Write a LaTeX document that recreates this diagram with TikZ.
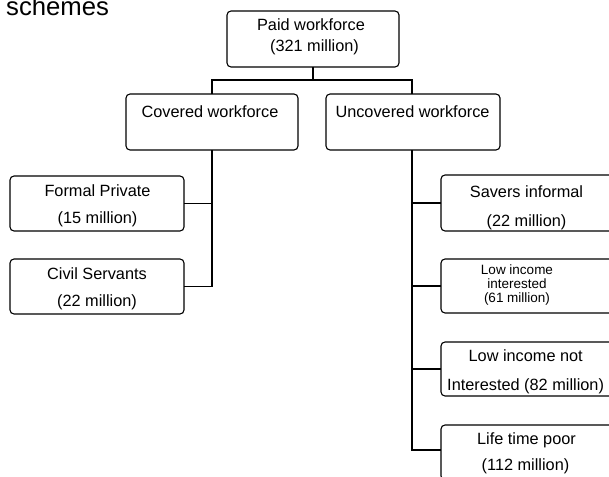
\documentclass[tikz,border=0pt]{standalone}
\usepackage{fontspec}
\setmainfont{Liberation Sans}
\usetikzlibrary{calc}
\begin{document}
\begin{tikzpicture}[x=1pt,y=-1pt,
  box/.style={draw=black,line width=1.1pt,rounded corners=4pt,fill=white,
    inner sep=0pt,outer sep=0pt},
  txt/.style={anchor=base,inner sep=0pt,font=\fontsize{16.3}{19}\selectfont},
  smalltxt/.style={anchor=base,inner sep=0pt,font=\fontsize{13.5}{15}\selectfont},
  conn/.style={draw=black,line width=1.1pt}]
% page frame
\fill[white] (0,0) rectangle (609,476);
\useasboundingbox (0,0) rectangle (609,476);

% heading line, partly above the page
\node[anchor=base west,inner sep=0pt,font=\fontsize{25.7}{30}\selectfont] (head) at (6,16) {schemes};

% boxes
\node[box,minimum width=172pt,minimum height=56pt] (paid) at (313,39) {};
\node[box,minimum width=172pt,minimum height=56pt] (covered) at (212,122) {};
\node[box,minimum width=174pt,minimum height=56pt] (uncovered) at (413,122) {};
\node[box,minimum width=174pt,minimum height=55pt] (formal) at (97,203.5) {};
\node[box,minimum width=174pt,minimum height=55pt] (civil) at (97,286.5) {};
\node[box,minimum width=172pt,minimum height=56pt] (savers) at (527,203) {};
\node[box,minimum width=172pt,minimum height=54pt] (lowint) at (527,286) {};
\node[box,minimum width=172pt,minimum height=54pt] (lownot) at (527,369) {};
\node[box,minimum width=172pt,minimum height=55pt] (poor) at (527,452.5) {};

% connectors
\coordinate (split) at ($(paid.south)+(0,13)$);
\draw[conn] (paid.south) -- (split);
\draw[conn] (covered.north) |- (split) -| (412,94);
\draw[conn] (covered.south) |- (civil.east);
\draw[conn] (formal.east) -- (formal.east -| covered.south);
\coordinate (utop) at (412,150);
\coordinate (ubot) at (412,450);
\draw[conn] (utop) -- (ubot) -- (ubot -| poor.west);
\draw[conn] (savers.west) -- (savers.west -| utop);
\draw[conn] (lowint.west) -- (lowint.west -| utop);
\draw[conn] (lownot.west) -- (lownot.west -| utop);

% labels
\node[txt] (paidA) at (311,31) {Paid workforce};
\node[txt] (paidB) at (314.5,52) {(321 million)};
\node[txt] (covA) at (210,117) {Covered workforce};
\node[txt] (uncA) at (412.5,117) {Uncovered workforce};
\node[txt] (forA) at (97.5,196.7) {Formal Private};
\node[txt] (forB) at (97.5,223.3) {(15 million)};
\node[txt] (civA) at (97,279.3) {Civil Servants};
\node[txt] (civB) at (97,306) {(22 million)};
\node[txt] (savA) at (526.5,197.3) {Savers informal};
\node[txt] (savB) at (526.5,226) {(22 million)};
\node[smalltxt] (intA) at (517,274) {Low income};
\node[smalltxt] (intB) at (517,288.3) {interested};
\node[smalltxt] (intC) at (517,302.7) {(61 million)};
\node[txt] (notA) at (525.7,361.7) {Low income not};
\node[txt] (notB) at (525.6,390.7) {Interested (82 million)};
\node[txt] (poorA) at (526.5,444) {Life time poor};
\node[txt] (poorB) at (525.5,470.7) {(112 million)};
\end{tikzpicture}
\end{document}
